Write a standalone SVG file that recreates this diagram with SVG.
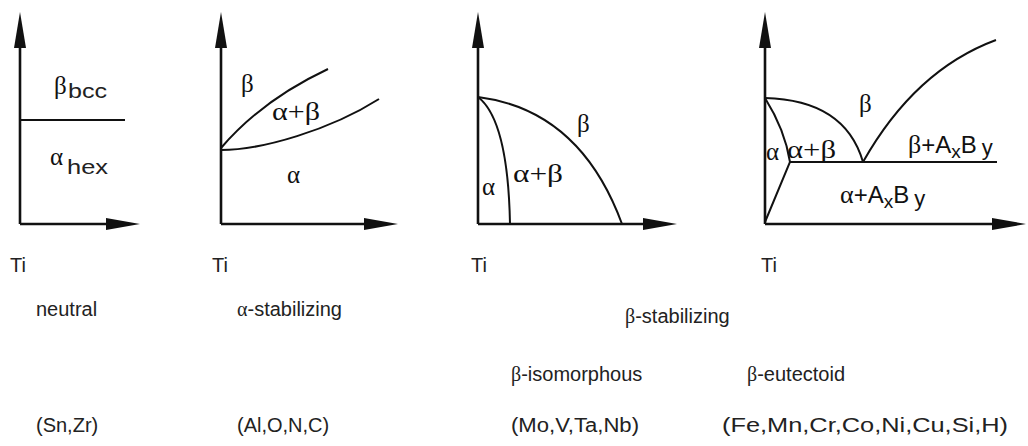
<svg xmlns="http://www.w3.org/2000/svg" width="1028" height="446" viewBox="0 0 1028 446">
<style>
text{font-family:"Liberation Sans",Arial,sans-serif;font-size:20px;fill:#222}
.g{font-family:"Liberation Serif","Times New Roman",serif}
.L{font-family:"Liberation Serif","Times New Roman",serif;font-size:25px;fill:#111}
.s{font-size:20px}
.P{font-size:24px;fill:#111}
.ax{stroke:#111;stroke-width:2.6;fill:none}
.cv{stroke:#111;stroke-width:2;fill:none}
.ah{fill:#111}
</style>
<defs>
<polygon id="up" points="0,0 -6,36 6,36"/>
<polygon id="rt" points="0,0 -34,-6 -34,6"/>
</defs>
<g id="connectors">
<path class="ax" d="M20,224V40M20,224H110"/>
<use href="#up" class="ah" x="20" y="12"/><use href="#rt" class="ah" x="140" y="224"/>
<path class="ax" d="M221,224V40M221,224H368"/>
<use href="#up" class="ah" x="221" y="12"/><use href="#rt" class="ah" x="398" y="224"/>
<path class="ax" d="M478,224V40M478,224H647"/>
<use href="#up" class="ah" x="478" y="12"/><use href="#rt" class="ah" x="677" y="224"/>
<path class="ax" d="M765,224V40M765,224H996"/>
<use href="#up" class="ah" x="765" y="12"/><use href="#rt" class="ah" x="1026" y="224"/>
</g>
<g id="neutral">
<path class="cv" d="M20,120H125"/>
<text class="L" x="54" y="94">β</text>
<text class="s" x="68" y="98" textLength="39" lengthAdjust="spacingAndGlyphs">bcc</text>
<text class="L" x="50" y="165">α</text>
<text class="s" x="67" y="174" textLength="41" lengthAdjust="spacingAndGlyphs">hex</text>
<text x="10" y="272">Ti</text>
</g>
<g id="alpha-stab">
<path class="cv" d="M221,148Q262,100 328,69"/>
<path class="cv" d="M221,150C262,150 330,130 379,99"/>
<text class="L" x="241" y="92">β</text>
<text class="L" x="272" y="120" textLength="48" lengthAdjust="spacingAndGlyphs">α+β</text>
<text class="L" x="287" y="183">α</text>
<text x="212" y="272">Ti</text>
</g>
<g id="beta-iso">
<path class="cv" d="M478,97Q580,110 622,224"/>
<path class="cv" d="M478,97Q508,120 510,224"/>
<text class="L" x="577" y="132">β</text>
<text class="L" x="513" y="182" textLength="50" lengthAdjust="spacingAndGlyphs">α+β</text>
<text class="L" x="482" y="195">α</text>
<text x="471" y="272">Ti</text>
</g>
<g id="beta-eut">
<path class="cv" d="M765,98Q845,100 863,162"/>
<path class="cv" d="M863,162Q915,70 996,40"/>
<path class="cv" d="M790,162H997"/>
<path class="cv" d="M765,98Q785,130 790,162L765,222"/>
<text class="L" x="859" y="112">β</text>
<text class="P" x="908" y="153"><tspan class="g" font-size="26">β</tspan>+A<tspan font-size="19" dy="5">x</tspan><tspan dy="-5">B</tspan><tspan font-size="22" dx="5" dy="2">y</tspan></text>
<text class="L" x="766" y="160">α</text>
<text class="L" x="787" y="158" textLength="49" lengthAdjust="spacingAndGlyphs">α+β</text>
<text class="P" x="840" y="203"><tspan class="g" font-size="26">α</tspan>+A<tspan font-size="19" dy="5">x</tspan><tspan dy="-5">B</tspan><tspan font-size="22" dx="5" dy="3">y</tspan></text>
<text x="761" y="272">Ti</text>
</g>
<g id="labels">
<text x="36" y="316">neutral</text>
<text x="237" y="316"><tspan class="g">α</tspan>-stabilizing</text>
<text x="625" y="323"><tspan class="g">β</tspan>-stabilizing</text>
<text x="511" y="381"><tspan class="g">β</tspan>-isomorphous</text>
<text x="747" y="381"><tspan class="g">β</tspan>-eutectoid</text>
<text x="36" y="432">(Sn,Zr)</text>
<text x="237" y="432">(Al,O,N,C)</text>
<text x="511" y="432" textLength="128" lengthAdjust="spacingAndGlyphs">(Mo,V,Ta,Nb)</text>
<text x="722" y="432" textLength="286" lengthAdjust="spacingAndGlyphs">(Fe,Mn,Cr,Co,Ni,Cu,Si,H)</text>
</g>
</svg>
